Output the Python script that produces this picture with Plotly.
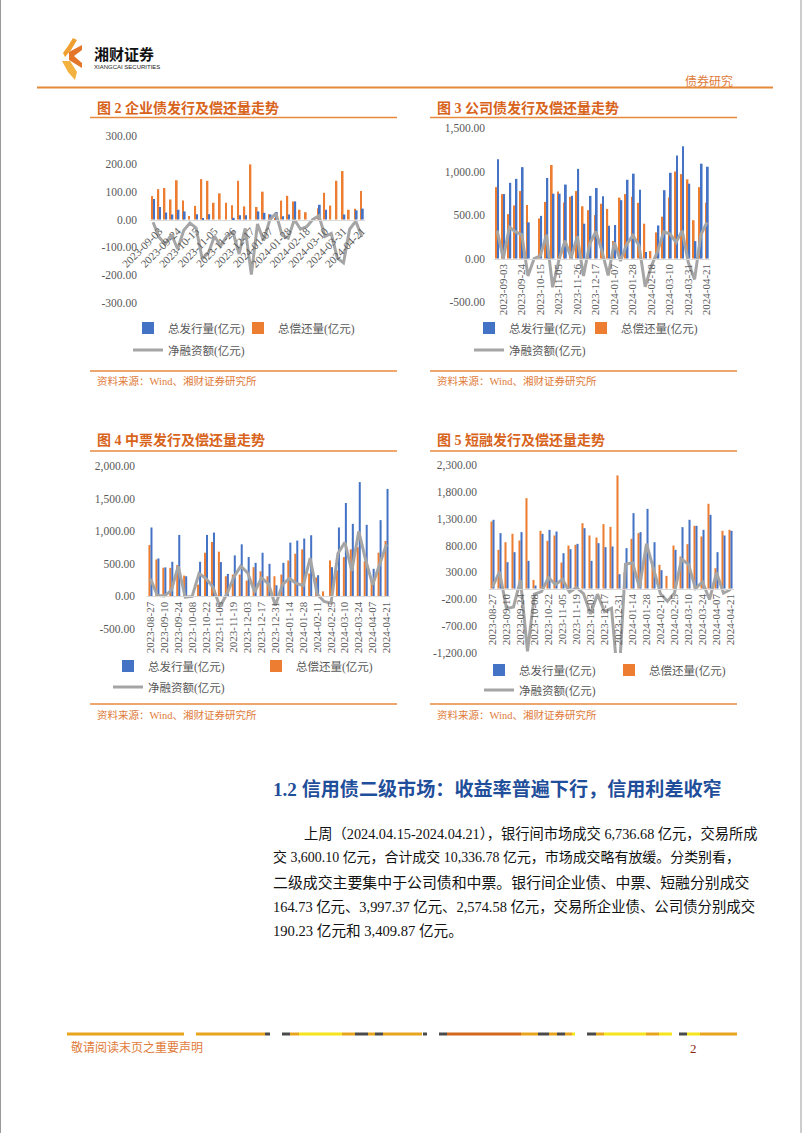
import plotly.graph_objects as go

W, H = 802, 1133


def fx(x):
    return x / W


def fy(y):
    return 1 - y / H


# ---------------- data ----------------
weeks = ["2023-08-27", "2023-09-03", "2023-09-10", "2023-09-17", "2023-09-24",
         "2023-10-01", "2023-10-08", "2023-10-15", "2023-10-22", "2023-10-29",
         "2023-11-05", "2023-11-12", "2023-11-19", "2023-11-26", "2023-12-03",
         "2023-12-10", "2023-12-17", "2023-12-24", "2023-12-31", "2024-01-07",
         "2024-01-14", "2024-01-21", "2024-01-28", "2024-02-04", "2024-02-11",
         "2024-02-18", "2024-02-25", "2024-03-03", "2024-03-10", "2024-03-17",
         "2024-03-24", "2024-03-31", "2024-04-07", "2024-04-14", "2024-04-21"]

ticks_a = ["2023-09-03", "2023-09-24", "2023-10-15", "2023-11-05", "2023-11-26",
           "2023-12-17", "2024-01-07", "2024-01-28", "2024-02-18", "2024-03-10",
           "2024-03-31", "2024-04-21"]
ticks_b = ["2023-08-27", "2023-09-10", "2023-09-24", "2023-10-08", "2023-10-22",
           "2023-11-05", "2023-11-19", "2023-12-03", "2023-12-17", "2023-12-31",
           "2024-01-14", "2024-01-28", "2024-02-11", "2024-02-25", "2024-03-10",
           "2024-03-24", "2024-04-07", "2024-04-21"]

# 企业债
issue1 = [74, 45, 25, 18, 35, 29, 0, 19, 4, 19, 0, 0, 0, 6, 15, 15, 0, 29, 24, 18,
          27, 12, 18, 65, 0, 0, 0, 53, 35, 0, 0, 18, 0, 33, 39]
repay1 = [84, 109, 113, 72, 141, 68, 13, 49, 145, 139, 60, 94, 60, 51, 139, 47, 198,
          45, 100, 19, 5, 68, 85, 65, 35, 26, 0, 40, 96, 50, 139, 174, 35, 39, 102]
net1 = [-10, -64, -88, -54, -106, -39, -13, -30, -141, -120, -60, -94, -60, -45,
        -124, -32, -198, -16, -76, -1, 22, -56, -67, 0, -35, -26, 0, 13, -61, -50,
        -139, -156, -35, -6, -63]

# 公司债
issue2 = [1140, 740, 870, 915, 1050, 415, 0, 490, 925, 745, 745, 850, 720, 1030, 400,
          720, 810, 715, 375, 385, 670, 905, 975, 790, 75, 0, 380, 785, 985, 1185,
          1290, 860, 200, 1090, 1055]
repay2 = [820, 740, 510, 610, 775, 615, 0, 460, 650, 1075, 770, 645, 710, 775, 600,
          555, 500, 630, 570, 200, 700, 740, 710, 640, 400, 85, 300, 480, 700, 1000,
          970, 910, 440, 820, 640]
net2 = [320, 0, 360, 305, 275, -200, 0, 30, 275, -330, -25, 205, 10, 255, -200, 165,
        310, 85, -195, 185, -30, 165, 265, 150, -325, -85, 80, 305, 285, 185, 320,
        -50, -240, 270, 415]

# 中票
issue3 = [1057, 582, 445, 531, 943, 309, 0, 531, 943, 979, 526, 345, 629, 799, 603,
          515, 670, 500, 170, 515, 825, 856, 887, 938, 325, 0, 448, 1057, 1433, 1113,
          1753, 1098, 423, 1170, 1649]
repay3 = [789, 567, 440, 438, 480, 320, 0, 180, 670, 835, 686, 309, 335, 335, 242,
          448, 385, 309, 309, 335, 550, 655, 722, 350, 290, 77, 552, 400, 603, 722,
          756, 540, 243, 670, 850]
net3 = [268, 15, 5, 93, 463, -11, 0, 351, 273, 144, -160, 36, 294, 464, 361, 67, 285,
        191, -139, 180, 275, 201, 165, 588, 35, -77, -104, 657, 830, 391, 997, 558,
        180, 500, 799]

# 短融
issue4 = [1280, 1031, 491, 677, 1050, 516, 56, 1019, 1093, 1062, 658, 733, 832, 1124,
          516, 845, 770, 783, 267, 752, 1404, 1050, 1484, 863, 342, 0, 720, 1143,
          1280, 1168, 1093, 1373, 677, 988, 1075]
repay4 = [1248, 720, 863, 1019, 894, 1683, 161, 1075, 888, 988, 484, 801, 814, 1217,
          988, 950, 1199, 1149, 2106, 300, 925, 1031, 650, 500, 441, 236, 801, 596,
          826, 1168, 969, 1578, 379, 1075, 1093]
net4 = [32, 311, -372, -342, 156, -1167, -105, -56, 205, 74, 174, -68, 18, -93, -472,
        -105, -429, -366, -1839, 452, 479, 19, 834, 363, -99, -236, -81, 547, 454, 0,
        124, -205, 298, -87, -18]

titles = ["图 2 企业债发行及偿还量走势", "图 3 公司债发行及偿还量走势",
          "图 4 中票发行及偿还量走势", "图 5 短融发行及偿还量走势"]
series_names = ["总发行量(亿元)", "总偿还量(亿元)", "净融资额(亿元)"]
source_text = "资料来源：Wind、湘财证券研究所"

# ---------------- style ----------------
BLUE = "#4472C4"
ORANGE = "#ED7D31"
GRAY = "#A5A5A5"
TXT = "#595959"
TITLE_C = "#D8641C"
LINE_C = "#E8893C"
SERIF = "Liberation Serif, Noto Sans CJK SC, serif"

charts = [
    dict(issue=issue1, repay=repay1, net=net1, x0=150, x1=365, ytop=136, ybot=303,
         ymin=-300, ymax=300, step=100, ticks=ticks_a, angle=-45, stand=12,
         lx=(137, 247), ly=(328, 350)),
    dict(issue=issue2, repay=repay2, net=net2, x0=494, x1=710, ytop=128, ybot=302,
         ymin=-500, ymax=1500, step=500, ticks=ticks_a, angle=-90, stand=8,
         lx=(478, 590), ly=(328, 350)),
    dict(issue=issue3, repay=repay3, net=net3, x0=147, x1=390, ytop=466, ybot=629,
         ymin=-500, ymax=2000, step=500, ticks=ticks_b, angle=-90, stand=11,
         lx=(117, 265), ly=(666, 687)),
    dict(issue=issue4, repay=repay4, net=net4, x0=489, x1=734, ytop=465, ybot=653,
         ymin=-1200, ymax=2300, step=500, ticks=ticks_b, angle=-90, stand=11,
         lx=(488, 618), ly=(670, 690)),
]

fig = go.Figure()
layout = dict(
    width=W, height=H, margin=dict(l=0, r=0, t=0, b=0, autoexpand=False),
    paper_bgcolor="white", plot_bgcolor="rgba(0,0,0,0)",
    barmode="group", bargap=0.42, bargroupgap=0.0, showlegend=True,
    font=dict(family=SERIF, color=TXT),
)

leg_common = dict(orientation="h", xanchor="left", yanchor="middle",
                  font=dict(size=11.5, color=TXT, family=SERIF),
                  bgcolor="rgba(0,0,0,0)", borderwidth=0, itemwidth=30, visible=True)
leg_count = [0]


def new_legend(x, y):
    leg_count[0] += 1
    key = "legend" if leg_count[0] == 1 else "legend" + str(leg_count[0])
    layout[key] = dict(leg_common, x=fx(x), y=fy(y))
    return key


for i, c in enumerate(charts):
    n = "" if i == 0 else str(i + 1)
    xa, ya = "x" + n, "y" + n
    lb = new_legend(c["lx"][0] - 9, c["ly"][0])
    lo = new_legend(c["lx"][1] - 9, c["ly"][0])
    lg = new_legend(c["lx"][0] - 9, c["ly"][1])
    fig.add_trace(go.Bar(x=weeks, y=c["repay"], name=series_names[1], marker_color=ORANGE,
                         marker_line_width=0, xaxis=xa, yaxis=ya, legend=lo, showlegend=True))
    fig.add_trace(go.Bar(x=weeks, y=c["issue"], name=series_names[0], marker_color=BLUE,
                         marker_line_width=0, xaxis=xa, yaxis=ya, legend=lb, showlegend=True))
    fig.add_trace(go.Scatter(x=weeks, y=c["net"], name=series_names[2], mode="lines",
                             line=dict(color=GRAY, width=3), xaxis=xa, yaxis=ya, legend=lg,
                             showlegend=True))

    zero_px = c["ybot"] - (0 - c["ymin"]) / (c["ymax"] - c["ymin"]) * (c["ybot"] - c["ytop"])
    tv = list(range(c["ymin"], c["ymax"] + 1, c["step"]))
    layout["xaxis" + n] = dict(
        domain=[fx(c["x0"]), fx(c["x1"])], anchor="free", position=fy(zero_px),
        type="category", range=[-0.5, len(weeks) - 0.5],
        tickmode="array", tickvals=c["ticks"], ticktext=c["ticks"], tickangle=c["angle"],
        tickfont=dict(size=11, color=TXT, family=SERIF),
        showline=True, linecolor="#D9D9D9", linewidth=1, showgrid=False, zeroline=False,
        ticks="", automargin=False,
    )
    layout["yaxis" + n] = dict(
        domain=[fy(c["ybot"]), fy(c["ytop"])], anchor=xa, range=[c["ymin"], c["ymax"]],
        tickmode="array", tickvals=tv, ticktext=[f"{v:,.2f}" for v in tv],
        tickfont=dict(size=11.5, color=TXT, family=SERIF), ticklabelstandoff=c["stand"],
        showline=False, showgrid=False, zeroline=False, ticks="", automargin=False,
    )

# ---------------- page decorations ----------------
shapes = []
ann = []


def hline(x0, x1, y, color=LINE_C, width=1.5):
    shapes.append(dict(type="line", xref="paper", yref="paper", x0=fx(x0), x1=fx(x1),
                       y0=fy(y), y1=fy(y), line=dict(color=color, width=width)))


def text(x, y, s, size, color, xanchor="left", bold=False, family=SERIF):
    ann.append(dict(xref="paper", yref="paper", x=fx(x), y=fy(y), text=f"<b>{s}</b>" if bold else s,
                    showarrow=False, xanchor=xanchor, yanchor="middle",
                    font=dict(size=size, color=color, family=family)))


# page borders
shapes.append(dict(type="line", xref="paper", yref="paper", x0=fx(0.5), x1=fx(0.5), y0=0, y1=1,
                   line=dict(color="#9A9A9A", width=1)))
shapes.append(dict(type="line", xref="paper", yref="paper", x0=fx(801), x1=fx(801), y0=0, y1=1,
                   line=dict(color="#9A9A9A", width=1)))


def poly(pts, color):
    d = "M" + " L".join(f"{fx(x):.5f},{fy(y):.5f}" for x, y in pts) + " Z"
    shapes.append(dict(type="path", xref="paper", yref="paper", path=d,
                       fillcolor=color, line=dict(width=0)))


# logo
poly([(73, 38), (77, 40), (71, 50), (65, 57), (63, 53), (68, 46)], "#F0A030")
poly([(69, 52), (82, 45), (82, 50), (74, 56), (82, 63), (82, 68), (69, 60)], "#E4762A")
poly([(62, 61), (70, 61), (77, 72), (75, 80), (68, 72)], "#F3B13F")
text(92, 53, "湘财证券", 15, "#111111", bold=True, family="Noto Sans CJK SC")
text(92, 67, "XIANGCAI SECURITIES", 6, "#222222", family="Liberation Sans Narrow, Liberation Sans")
text(735, 80, "债券研究", 12, "#E07B39", xanchor="right", family="Noto Sans CJK SC")
hline(37, 773, 87.5, color="#E58A3A", width=1.8)

# chart titles / frames
frames = [(90, 397, 107.5, 117.5, 371, 381), (430, 737, 107.5, 117.5, 371, 381),
          (90, 397, 440, 451, 704, 715), (430, 737, 440, 451, 704, 715)]
for t, (a, b, ty, l1, l2, sy) in zip(titles, frames):
    text(a + 5, ty, t, 14, TITLE_C, bold=True)
    hline(a, b, l1)
    hline(a, b, l2)
    text(a + 5, sy, source_text, 10.5, "#E07B39")

# section heading and paragraph
text(271, 789, "1.2 信用债二级市场：收益率普遍下行，信用利差收窄", 19.1, "#1F4E9A", bold=True)
para = [
    (302, 833, 14.25, "上周（2024.04.15-2024.04.21），银行间市场成交 6,736.68 亿元，交易所成"),
    (271, 857, 13.95, "交 3,600.10 亿元，合计成交 10,336.78 亿元，市场成交略有放缓。分类别看，"),
    (271, 882, 14.9, "二级成交主要集中于公司债和中票。银行间企业债、中票、短融分别成交"),
    (271, 906, 14.4, "164.73 亿元、3,997.37 亿元、2,574.58 亿元，交易所企业债、公司债分别成交"),
    (271, 931, 14.6, "190.23 亿元和 3,409.87 亿元。"),
]
for x, y, sz, s in para:
    text(x, y, s, sz, "#111111")

# footer dashed band
GOLD, DARK, YEL, DOR = "#E9A41E", "#4A4A4A", "#F6E41C", "#D2681C"
segs = [(67, 184, GOLD), (196, 265, GOLD), (265, 270, DARK), (282, 290, DARK), (290, 299, GOLD),
        (299, 342, YEL), (342, 355, GOLD), (355, 368, DARK), (368, 375, GOLD), (375, 383, DARK),
        (383, 422, GOLD), (423, 427, DARK), (439, 447, DARK), (447, 521, DOR), (521, 538, GOLD),
        (538, 549, DARK), (549, 557, GOLD), (557, 565, DARK), (565, 572, GOLD), (572, 575, YEL),
        (587, 596, DARK), (596, 604, GOLD), (604, 646, YEL), (646, 659, GOLD), (659, 672, YEL),
        (679, 687, DARK), (687, 700, YEL), (700, 737, GOLD)]
for a, b, col in segs:
    hline(a, b, 1034, color=col, width=3)
text(69, 1048, "敬请阅读末页之重要声明", 12, "#E07B39")
text(693, 1048, "2", 13, "#8B2A1A", xanchor="center")

layout["shapes"] = shapes
layout["annotations"] = ann
fig.update_layout(**layout)
fig.write_html("out.html", config={"displayModeBar": False},
               post_script="document.body.style.margin='0';document.body.style.overflow='hidden';")
